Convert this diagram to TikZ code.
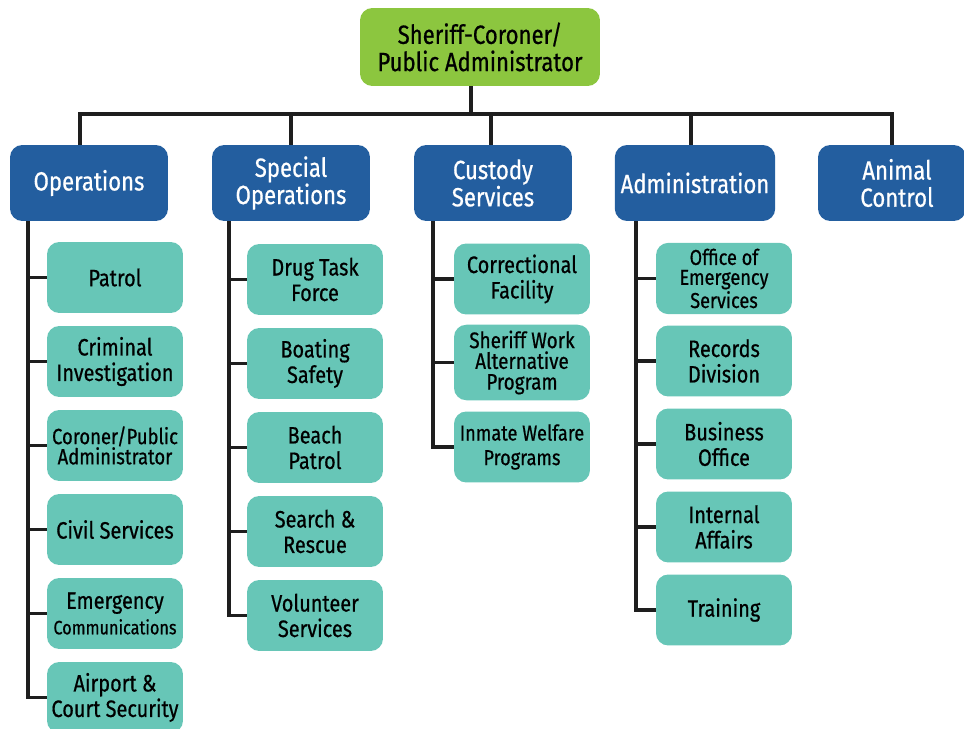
\documentclass[tikz,border=0pt]{standalone}
\usepackage{fontspec}
\setmainfont{Fira Sans}[FakeStretch=0.84, FakeBold=0.6]
\definecolor{topgreen}{HTML}{8CC63F}
\definecolor{deptblue}{HTML}{235E9F}
\definecolor{unitteal}{HTML}{67C6B7}
\definecolor{linedark}{HTML}{1E1E1E}
\tikzset{
  headbox/.style={draw=none, fill=topgreen, rounded corners=7pt, minimum width=4.8cm, minimum height=1.56cm, align=center, text=black, font=\fontsize{15}{15.5}\selectfont},
  deptbox/.style={draw=none, fill=deptblue, rounded corners=7pt, minimum width=3.16cm, minimum height=1.52cm, align=center, text=white, font=\fontsize{15}{15.5}\selectfont},
  unitbox/.style={draw=none, fill=unitteal, rounded corners=7pt, minimum width=2.72cm, minimum height=1.42cm, inner xsep=1pt, align=center, text=black, font=\fontsize{13.5}{14.5}\selectfont},
  smalltext/.style={font=\fontsize{12.5}{11.5}\selectfont},
  link/.style={draw=linedark, line width=2.2pt}
}
\begin{document}
\begin{tikzpicture}[x=0.02cm, y=-0.02cm]
\useasboundingbox (0,0) rectangle (964,729);
% head
\node[headbox] (head) at (480,47) {Sheriff-Coroner/\\Public Administrator};
% departments
\node[deptbox] (ops) at (89,183) {\raisebox{3pt}{Operations}};
\node[deptbox] (spec) at (291,183) {Special\\Operations};
\node[deptbox] (cust) at (493,183) {Custody\\Services};
\node[deptbox] (admin) at (695,183) {Administration};
\node[deptbox, minimum width=2.96cm] (animal) at (892,183) {\hspace*{0.2cm}Animal\\\hspace*{0.2cm}Control};
% operations units
\node[unitbox] (o1) at (115,277.5) {Patrol};
\node[unitbox] (o2) at (115,361.5) {Criminal\\Investigation};
\node[unitbox, smalltext] (o3) at (115,445.5) {Coroner/Public\\Administrator};
\node[unitbox] (o4) at (115,529.5) {Civil Services};
\node[unitbox] (o5) at (115,613.5) {Emergency\\{\fontsize{11}{12}\selectfont Communications}};
\node[unitbox] (o6) at (115,697.5) {Airport \&\\Court Security};
% special operations units
\node[unitbox] (s1) at (315,279.5) {Drug Task\\Force};
\node[unitbox] (s2) at (315,363.5) {Boating\\Safety};
\node[unitbox] (s3) at (315,447.5) {Beach\\Patrol};
\node[unitbox] (s4) at (315,531.5) {Search \&\\Rescue};
\node[unitbox] (s5) at (315,615.5) {Volunteer\\Services};
% custody units
\node[unitbox] (c1) at (522,279) {Correctional\\Facility};
\node[unitbox, font=\fontsize{12.8}{11.8}\selectfont] (c2) at (522,362.5) {Sheriff Work\\Alternative\\Program};
\node[unitbox, font=\fontsize{12.3}{14}\selectfont] (c3) at (522,447) {Inmate Welfare\\Programs};
% administration units
\node[unitbox, font=\fontsize{12.3}{11.3}\selectfont] (a1) at (724,278.5) {Office of\\Emergency\\Services};
\node[unitbox] (a2) at (724,361) {Records\\Division};
\node[unitbox] (a3) at (724,444) {Business\\Office};
\node[unitbox] (a4) at (724,527) {Internal\\Affairs};
\node[unitbox] (a5) at (724,610) {Training};
% top connectors
\coordinate (hub) at (471,114);
\coordinate (barL) at (80,114);
\coordinate (barR) at (892,114);
\draw[link] (hub |- head.south) -- (hub);
\draw[link] (barL |- ops.north) -- (barL) -- (barR) -- (barR |- animal.north);
\draw[link] (spec.north |- barL) -- (spec.north);
\draw[link] ([xshift=-0.04cm]cust.north |- barL) -- ([xshift=-0.04cm]cust.north);
\draw[link] ([xshift=-0.08cm]admin.north |- barL) -- ([xshift=-0.08cm]admin.north);
% rails
\coordinate (r1) at (28,0);
\coordinate (r2) at (229,0);
\coordinate (r3) at (433,0);
\coordinate (r4) at (636,0);
\draw[link] (r1 |- ops.south) -- (r1 |- o6.west) -- (o6.west);
\foreach \n in {o1,o2,o3,o4,o5} \draw[link] (r1 |- \n.west) -- (\n.west);
\draw[link] (r2 |- spec.south) -- (r2 |- s5.west) -- (s5.west);
\foreach \n in {s1,s2,s3,s4} \draw[link] (r2 |- \n.west) -- (\n.west);
\draw[link] (r3 |- cust.south) -- (r3 |- c3.west) -- (c3.west);
\foreach \n in {c1,c2} \draw[link] (r3 |- \n.west) -- (\n.west);
\draw[link] (r4 |- admin.south) -- (r4 |- a5.west) -- (a5.west);
\foreach \n in {a1,a2,a3,a4} \draw[link] (r4 |- \n.west) -- (\n.west);
\end{tikzpicture}
\end{document}
